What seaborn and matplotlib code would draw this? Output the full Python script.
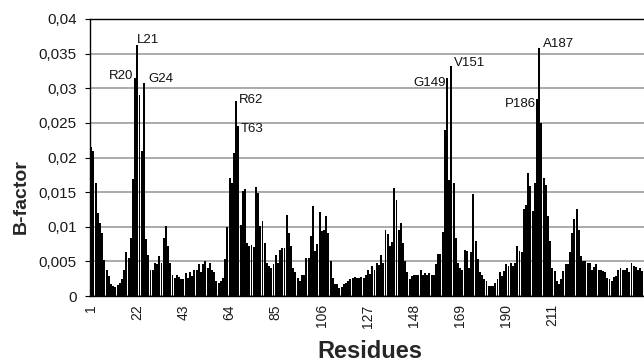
import matplotlib
matplotlib.use("Agg")
import matplotlib.pyplot as plt
import seaborn as sns
import pandas as pd
import numpy as np

# ---- data (B-factor per residue position) ----
bf_001_025 = [0.0215, 0.0209, 0.0163, 0.0120, 0.0106, 0.0091, 0.0052, 0.0038, 0.0029, 0.0018,
              0.0014, 0.0013, 0.0016, 0.0019, 0.0024, 0.0038, 0.0063, 0.0055, 0.0084, 0.0169,
              0.0315, 0.0362, 0.0290, 0.0210, 0.0307]
bf_026_050 = [0.0082, 0.0059, 0.0038, 0.0038, 0.0047, 0.0046, 0.0058, 0.0047, 0.0084, 0.0101,
              0.0072, 0.0048, 0.0031, 0.0026, 0.0031, 0.0028, 0.0024, 0.0025, 0.0033, 0.0026,
              0.0034, 0.0029, 0.0038, 0.0038, 0.0046]
bf_051_075 = [0.0034, 0.0046, 0.0051, 0.0040, 0.0048, 0.0038, 0.0034, 0.0022, 0.0019, 0.0022,
              0.0026, 0.0053, 0.0099, 0.0171, 0.0163, 0.0207, 0.0281, 0.0245, 0.0103, 0.0151,
              0.0155, 0.0077, 0.0072, 0.0073, 0.0071]
bf_076_100 = [0.0157, 0.0149, 0.0101, 0.0108, 0.0077, 0.0048, 0.0044, 0.0041, 0.0046, 0.0059,
              0.0048, 0.0067, 0.0070, 0.0070, 0.0117, 0.0091, 0.0072, 0.0041, 0.0034, 0.0026,
              0.0022, 0.0031, 0.0031, 0.0055, 0.0055]
bf_101_125 = [0.0087, 0.0130, 0.0065, 0.0075, 0.0122, 0.0094, 0.0096, 0.0116, 0.0091, 0.0050,
              0.0026, 0.0017, 0.0017, 0.0012, 0.0013, 0.0017, 0.0019, 0.0022, 0.0024, 0.0026,
              0.0028, 0.0026, 0.0026, 0.0027, 0.0026]
bf_126_150 = [0.0030, 0.0038, 0.0032, 0.0044, 0.0038, 0.0048, 0.0045, 0.0059, 0.0047, 0.0096,
              0.0089, 0.0072, 0.0078, 0.0156, 0.0138, 0.0096, 0.0106, 0.0077, 0.0050, 0.0035,
              0.0024, 0.0029, 0.0031, 0.0030, 0.0031]
bf_151_175 = [0.0038, 0.0031, 0.0033, 0.0031, 0.0033, 0.0031, 0.0031, 0.0046, 0.0060, 0.0060,
              0.0092, 0.0240, 0.0315, 0.0168, 0.0332, 0.0163, 0.0084, 0.0048, 0.0041, 0.0038,
              0.0067, 0.0065, 0.0041, 0.0063, 0.0147]
bf_176_200 = [0.0079, 0.0053, 0.0034, 0.0031, 0.0024, 0.0022, 0.0015, 0.0014, 0.0015, 0.0019,
              0.0024, 0.0034, 0.0029, 0.0036, 0.0046, 0.0044, 0.0048, 0.0044, 0.0048, 0.0072,
              0.0065, 0.0063, 0.0125, 0.0132, 0.0178]
bf_201_225 = [0.0159, 0.0123, 0.0163, 0.0285, 0.0358, 0.0250, 0.0171, 0.0161, 0.0115, 0.0079,
              0.0040, 0.0036, 0.0022, 0.0017, 0.0024, 0.0036, 0.0046, 0.0046, 0.0063, 0.0091,
              0.0111, 0.0125, 0.0096, 0.0058, 0.0050]
bf_226_252 = [0.0050, 0.0048, 0.0047, 0.0038, 0.0042, 0.0046, 0.0037, 0.0038, 0.0036, 0.0034,
              0.0026, 0.0024, 0.0022, 0.0027, 0.0029, 0.0038, 0.0041, 0.0038, 0.0038, 0.0041,
              0.0035, 0.0048, 0.0043, 0.0042, 0.0038, 0.0041, 0.0036]

bfactor = (bf_001_025 + bf_026_050 + bf_051_075 + bf_076_100 + bf_101_125 +
           bf_126_150 + bf_151_175 + bf_176_200 + bf_201_225 + bf_226_252)
residues = list(range(1, len(bfactor) + 1))

xtick_pos = [1, 22, 43, 64, 85, 106, 127, 148, 169, 190, 211]
xtick_labels = [str(v) for v in xtick_pos]
ytick_vals = [0, 0.005, 0.01, 0.015, 0.02, 0.025, 0.03, 0.035, 0.04]
ytick_labels = ["0", "0,005", "0,01", "0,015", "0,02", "0,025", "0,03", "0,035", "0,04"]

peak_labels = ["R20", "L21", "G24", "R62", "T63", "G149", "V151", "P186", "A187"]
peak_pos = [21, 22, 25, 67, 68, 163, 165, 204, 205]

# style of the labels (offsets in points, alignment)
peak_style = {
    "R20": (-1, 1, "right"), "L21": (0, 4, "left"), "G24": (3, 3, "left"),
    "R62": (2, 1, "left"), "T63": (2, -2, "left"), "G149": (-1, -4, "right"),
    "V151": (2, 2, "left"), "P186": (-1, -4, "right"), "A187": (3, 3, "left"),
}

sns.set_theme(style="white")
plt.rcParams["font.family"] = ["Liberation Sans", "DejaVu Sans"]

W, H = 644, 361
fig = plt.figure(figsize=(W / 100, H / 100), dpi=100)
ax = fig.add_axes([90 / W, 1 - 296 / H, (W - 90) / W, 277 / H])

df = pd.DataFrame({"Residue": residues, "B": bfactor})
sns.barplot(data=df, x="Residue", y="B", color="black", native_scale=True,
            width=0.88, errorbar=None, saturation=1, edgecolor="none",
            linewidth=0, ax=ax)

ax.set_ylim(0, 0.04)
ax.set_xlim(0.45, 252.7)
ax.set_yticks(ytick_vals)
ax.set_yticklabels(ytick_labels, fontsize=11, color="#1a1a1a")
ax.set_xticks(xtick_pos)
ax.set_xticklabels(xtick_labels, rotation=90, fontsize=10, color="#1a1a1a")
ax.tick_params(axis="y", direction="out", length=3.5, width=0.8, pad=6, left=True, color="black")
ax.tick_params(axis="x", length=0, pad=6)

ax.yaxis.grid(True, color="#9c9c9c", linewidth=1.2)
ax.xaxis.grid(False)
ax.set_axisbelow(True)
for side in ["left", "bottom", "top"]:
    ax.spines[side].set_visible(True)
    ax.spines[side].set_color("black")
    ax.spines[side].set_linewidth(1.0)
ax.spines["right"].set_visible(False)
ax.set_xlabel("")
ax.set_ylabel("")

for lab, pos in zip(peak_labels, peak_pos):
    dx, dy, ha = peak_style[lab]
    ax.annotate(lab, xy=(pos, bfactor[pos - 1]), xytext=(dx, dy),
                textcoords="offset points", ha=ha, va="center", fontsize=9.5,
                color="#111111")

fig.text(21 / W, 1 - 197 / H, "B-factor", rotation=90, ha="center", va="center",
         fontsize=14, fontweight="bold")
fig.text(370 / W, 1 - 351 / H, "Residues", ha="center", va="center",
         fontsize=17, fontweight="bold")

fig.savefig("out.png", dpi=100)
